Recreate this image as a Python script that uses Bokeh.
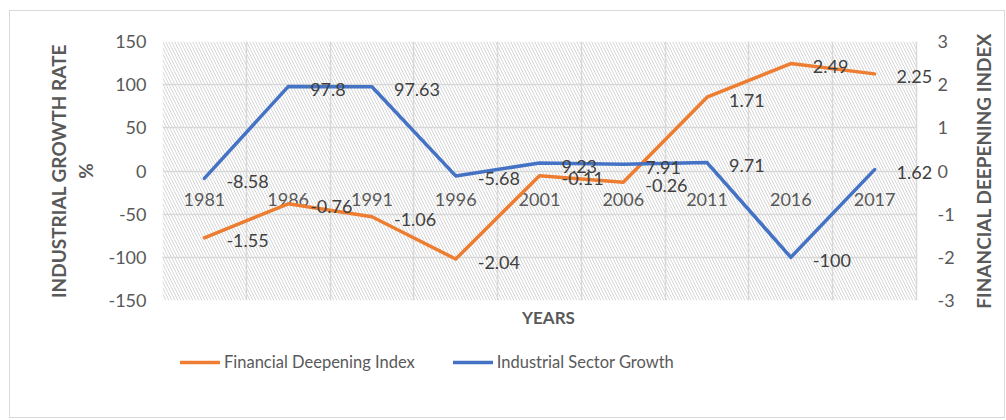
import math
from bokeh.plotting import figure
from bokeh.layouts import column, row
from bokeh.models import (LinearAxis, Range1d, FixedTicker, BoxAnnotation, Legend,
                          LegendItem, ColumnDataSource, Title)
from bokeh.core.properties import value
from bokeh.embed import file_html
from bokeh.resources import INLINE

# ---- data ----
years = ["1981", "1986", "1991", "1996", "2001", "2006", "2011", "2016", "2017"]
financial_deepening = [-1.55, -0.76, -1.06, -2.04, -0.11, -0.26, 1.71, 2.49, 2.25]
industrial_growth = [-8.58, 97.8, 97.63, -5.68, 9.23, 7.91, 9.71, -100, 1.62]
left_ticks = [-150, -100, -50, 0, 50, 100, 150]
right_ticks = [-3, -2, -1, 0, 1, 2, 3]

FONT = "Lato"
ORANGE = "#ED7D31"
BLUE = "#4472C4"
GRID = "#d9d9d9"
TICK_COLOR = "#595959"
LABEL_COLOR = "#404040"
EXT = 0.215  # extra room right of the last category so end labels are not clipped

xs = list(range(len(years)))
boundaries = [i - 0.5 for i in range(len(years) + 1)]
x_lo, x_hi = boundaries[0], boundaries[-1]

src = ColumnDataSource(dict(
    x=xs,
    year=years,
    zero=[0] * len(years),
    fdi=financial_deepening,
    isg=industrial_growth,
    fdi_txt=["{:g}".format(v) for v in financial_deepening],
    isg_txt=["{:g}".format(v) for v in industrial_growth],
))

p = figure(width=954, height=330, output_backend="svg", toolbar_location=None,
           x_range=Range1d(x_lo, x_hi + EXT), y_range=Range1d(-150, 150),
           min_border_left=152, min_border_top=30, min_border_right=30,
           min_border_bottom=41)
p.extra_y_ranges = {"fdi": Range1d(-3, 3)}
p.outline_line_color = None
p.background_fill_color = "white"

# hatched plot area
p.add_layout(BoxAnnotation(left=x_lo, right=x_hi, fill_alpha=0, line_alpha=0,
                           hatch_pattern="\\", hatch_color="#d6d6d6", hatch_scale=6,
                           hatch_weight=1, level="underlay"))

# grids
p.xgrid.ticker = FixedTicker(ticks=boundaries)
p.ygrid.ticker = FixedTicker(ticks=left_ticks)
if "cross_bounds" in p.ygrid[0].properties():
    p.ygrid[0].cross_bounds = (x_lo, x_hi)
for g in (p.xgrid, p.ygrid):
    g.grid_line_color = GRID
    g.grid_line_width = 1.5

# left axis
ya = p.yaxis[0]
ya.ticker = FixedTicker(ticks=left_ticks)
ya.major_label_overrides = {t: str(t) for t in left_ticks}
ya.axis_line_color = None
ya.major_tick_line_color = None
ya.minor_tick_line_color = None
ya.major_tick_out = 0
ya.major_tick_in = 0
ya.major_label_standoff = 16
ya.major_label_text_font = FONT
ya.major_label_text_font_size = "18px"
ya.major_label_text_color = TICK_COLOR
ya.axis_label = "INDUSTRIAL GROWTH RATE\n%"
ya.axis_label_text_font = FONT
ya.axis_label_text_font_style = "bold"
ya.axis_label_text_font_size = "19px"
ya.axis_label_text_color = TICK_COLOR
ya.axis_label_standoff = 8

# right axis (ticks only; its title sits in the narrow strip beside it)
ra = LinearAxis(y_range_name="fdi", ticker=FixedTicker(ticks=right_ticks))
ra.major_label_overrides = {t: str(t) for t in right_ticks}
ra.axis_line_color = None
ra.major_tick_line_color = None
ra.minor_tick_line_color = None
ra.major_tick_out = 0
ra.major_tick_in = 0
ra.major_label_standoff = 3
ra.major_label_text_font = FONT
ra.major_label_text_font_size = "18px"
ra.major_label_text_color = TICK_COLOR
p.add_layout(ra, "right")

# bottom axis (title only)
xa = p.xaxis[0]
xa.ticker = FixedTicker(ticks=[0])
xa.axis_line_color = None
xa.major_tick_line_color = None
xa.minor_tick_line_color = None
xa.major_tick_out = 0
xa.major_tick_in = 0
xa.major_label_text_font_size = "0px"
xa.major_label_standoff = 0
xa.axis_label = "YEARS"
xa.axis_label_text_font = FONT
xa.axis_label_text_font_style = "bold"
xa.axis_label_text_font_size = "17px"
xa.axis_label_text_color = TICK_COLOR
xa.axis_label_standoff = 6

# category labels at the zero line
p.text(x="x", y="zero", text="year", source=src, text_align="center",
       text_baseline="middle", y_offset=28, text_font=value(FONT),
       text_font_size="18px", text_color=TICK_COLOR)

# lines
r_fdi = p.line(x="x", y="fdi", source=src, y_range_name="fdi", color=ORANGE,
               line_width=3.5, line_join="round", line_cap="round")
r_isg = p.line(x="x", y="isg", source=src, color=BLUE,
               line_width=3.5, line_join="round", line_cap="round")

# data labels
p.text(x="x", y="fdi", text="fdi_txt", source=src, y_range_name="fdi",
       text_align="left", text_baseline="middle", x_offset=22, y_offset=3,
       text_font=value(FONT), text_font_size="18px", text_color=LABEL_COLOR)
p.text(x="x", y="isg", text="isg_txt", source=src,
       text_align="left", text_baseline="middle", x_offset=22, y_offset=3,
       text_font=value(FONT), text_font_size="18px", text_color=LABEL_COLOR)

# ---- narrow strip holding the right axis title (reads bottom to top) ----
pt = figure(width=40, height=330, output_backend="svg", toolbar_location=None,
            x_axis_location=None, y_axis_location=None, min_border=0,
            title_location=None)
pt.outline_line_color = None
pt.grid.visible = False
pt.add_layout(Title(text="FINANCIAL DEEPENING INDEX", align="center",
                    text_font=FONT, text_font_style="bold", text_font_size="19px",
                    text_color=TICK_COLOR), "left")

# ---- legend strip below the chart (its lines lie outside its view) ----
pl = figure(width=994, height=76, output_backend="svg", toolbar_location=None,
            x_axis_location=None, y_axis_location=None, min_border=0,
            min_border_left=152,
            x_range=Range1d(-100, -99), y_range=Range1d(-100, -99))
pl.outline_line_color = None
pl.grid.visible = False
l_fdi = pl.line(x="x", y="fdi", source=src, color=ORANGE, line_width=3.5,
                line_cap="round")
l_isg = pl.line(x="x", y="isg", source=src, color=BLUE, line_width=3.5,
                line_cap="round")

legend = Legend(items=[LegendItem(label="Financial Deepening Index", renderers=[l_fdi]),
                       LegendItem(label="Industrial Sector Growth", renderers=[l_isg])],
                orientation="horizontal", location=(18, 45))
legend.glyph_width = 40
legend.label_standoff = 4
legend.spacing = 38
legend.padding = 5
legend.margin = 0
legend.border_line_color = None
legend.background_fill_alpha = 0
legend.label_text_font = FONT
legend.label_text_font_size = "16.5px"
legend.label_text_color = TICK_COLOR
pl.add_layout(legend, "center")

layout = column(row(p, pt, spacing=0), pl, spacing=0,
                styles={"border": "1px solid #d9d9d9", "margin-left": "9px",
                        "margin-top": "10px"})

open("out.html", "w").write(file_html(layout, INLINE))
